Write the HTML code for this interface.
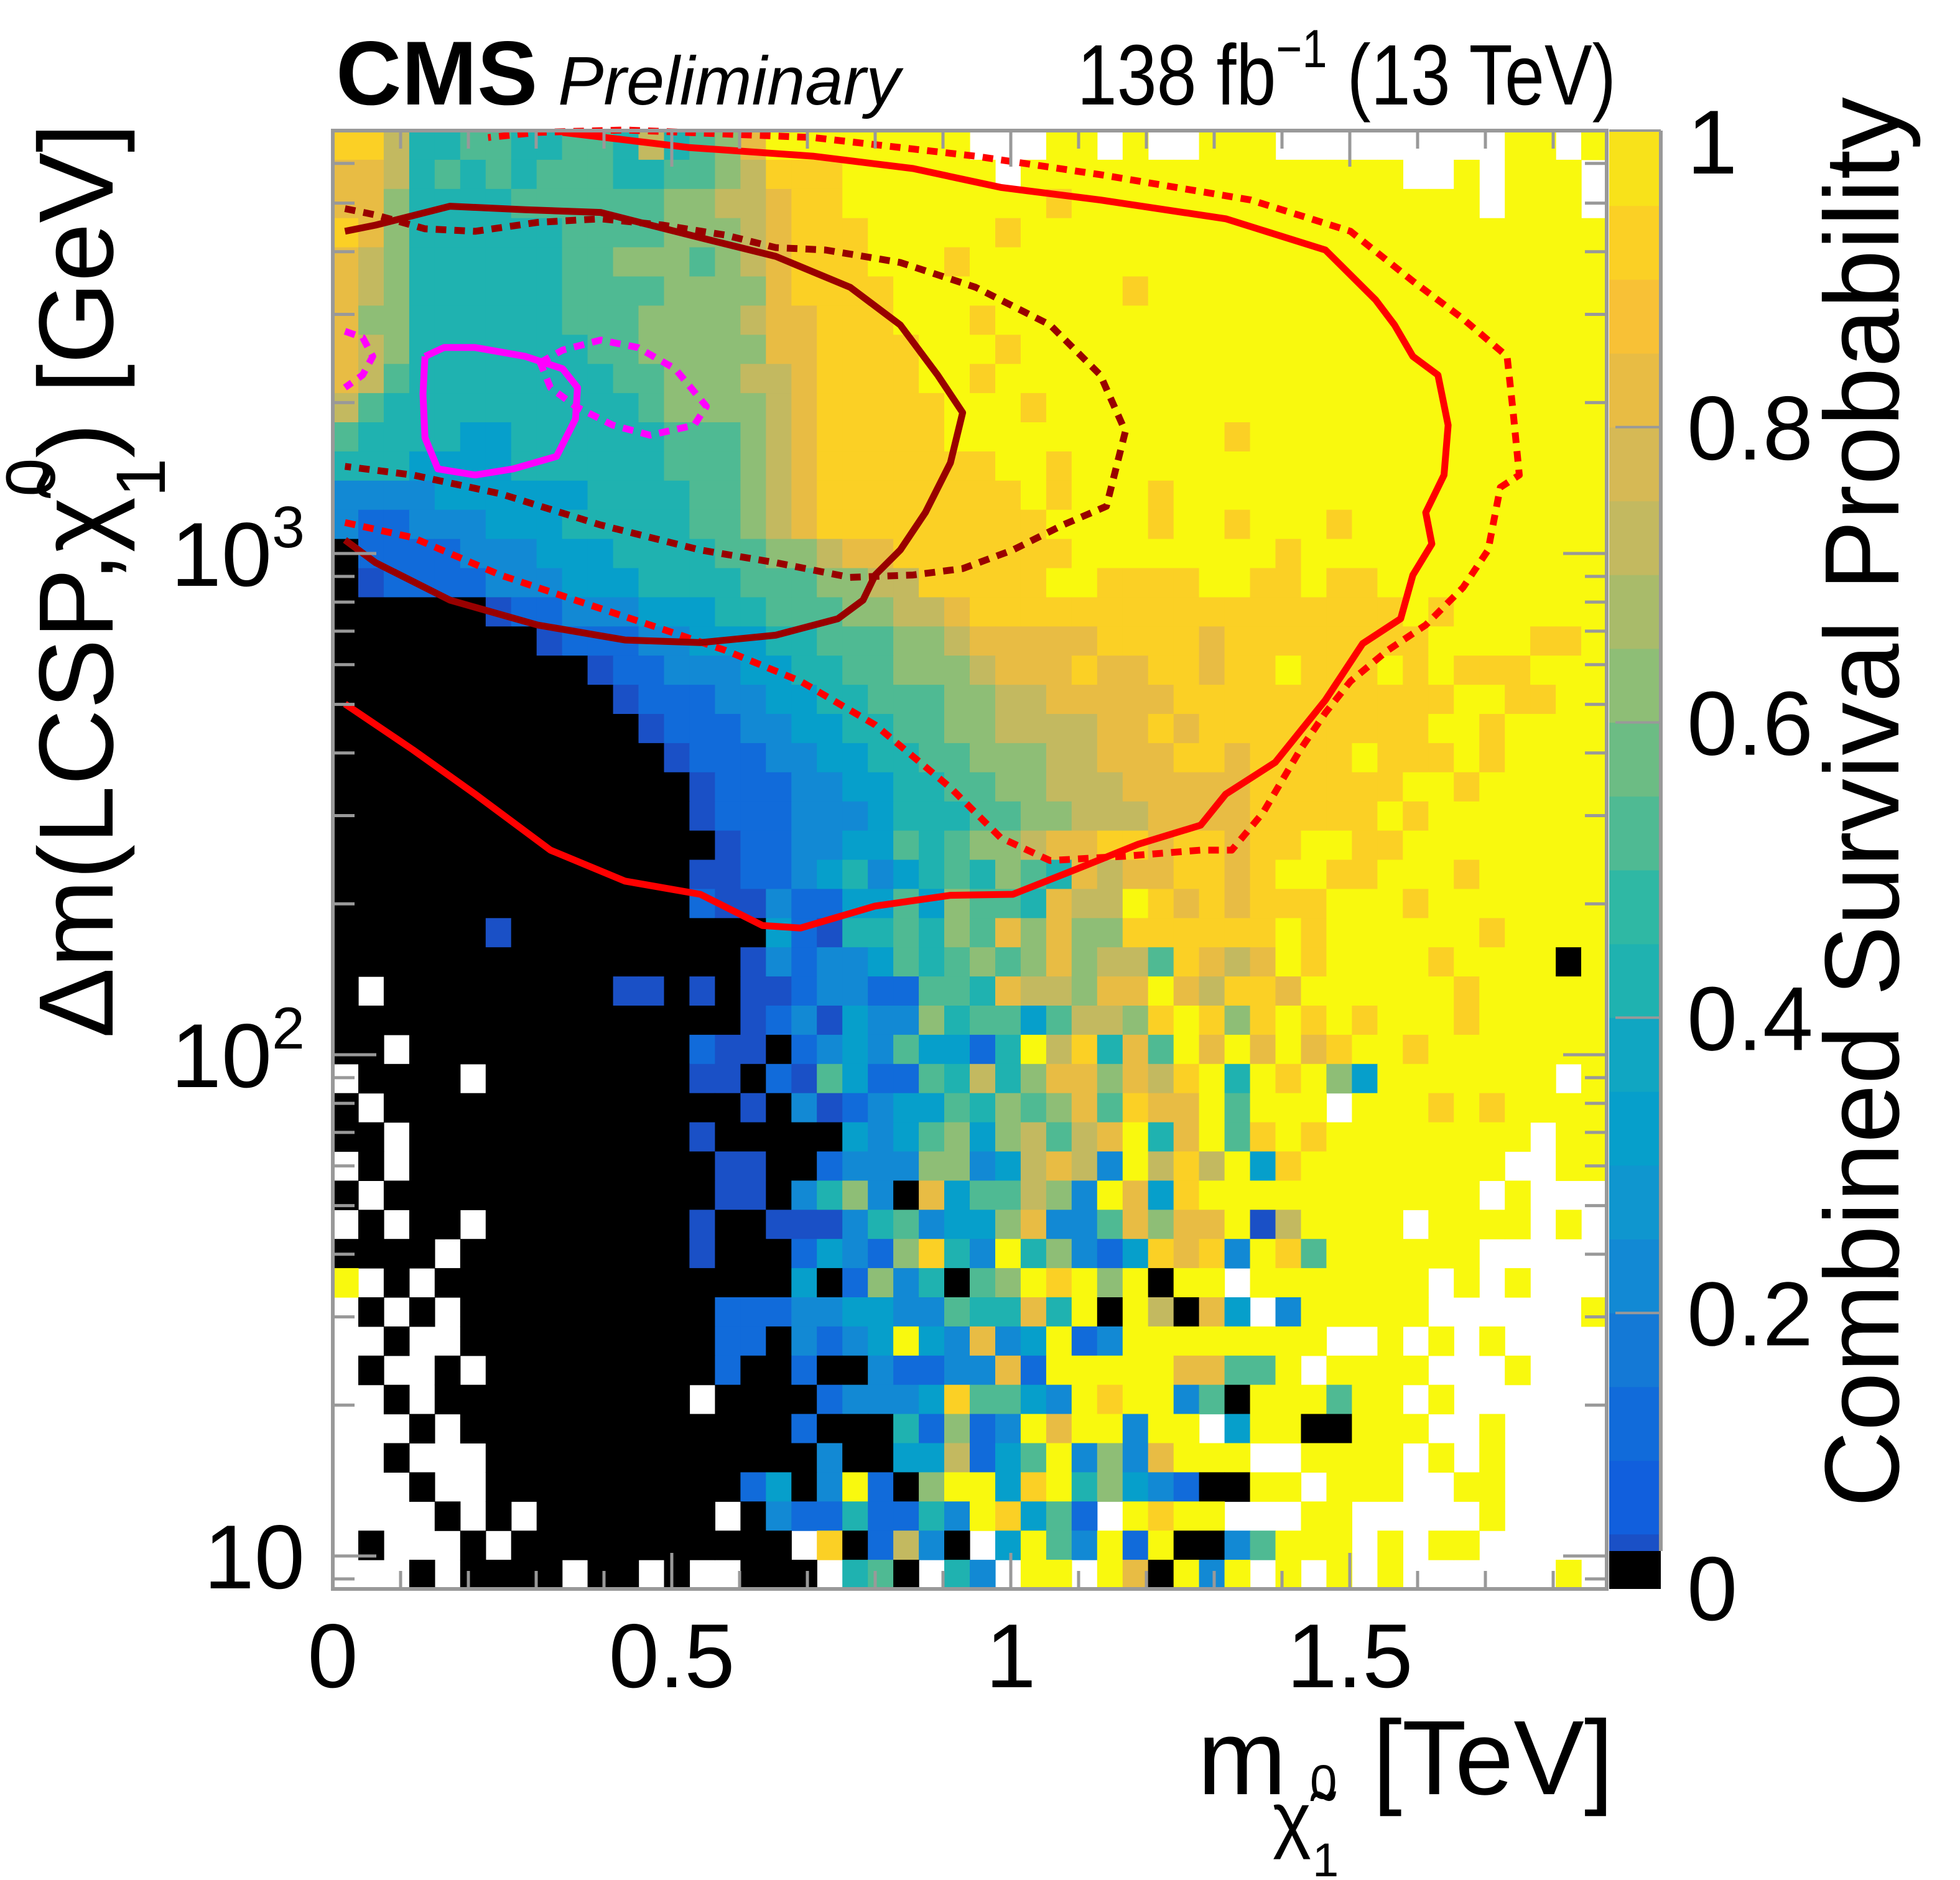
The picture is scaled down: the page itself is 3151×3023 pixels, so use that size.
<!DOCTYPE html>
<html><head><meta charset="utf-8"><style>
html,body{margin:0;padding:0;background:#fff;}
svg{display:block;font-family:"Liberation Sans",sans-serif;}
</style></head><body>
<svg id="chart" xmlns="http://www.w3.org/2000/svg" width="3151" height="3023" viewBox="0 0 3151 3023">
<rect width="3151" height="3023" fill="#fff"/>
<g id="heatmap"></g>
<g id="contours"></g>
<g id="axes"></g>
<g id="colorbar"></g>
<text x="540" y="168" font-size="146" font-weight="bold">CMS</text>
<text x="897" y="168" font-size="110" font-style="italic">Preliminary</text>
<text transform="translate(2598,168) scale(1,1.2)" font-size="115" text-anchor="end">138 fb<tspan dy="-50" font-size="72">−1</tspan><tspan dy="50"> (13 TeV)</tspan></text>
<g>
<text x="1925" y="2885" font-size="172">m</text>
<text x="2046" y="2965" font-size="118">χ̃</text>
<text x="2110" y="3017" font-size="76">1</text>
<text x="2106" y="2892" font-size="78">0</text>
<text x="2594" y="2885" font-size="170" text-anchor="end">[TeV]</text>
</g>
<text transform="translate(181,198) rotate(-90)" font-size="170" text-anchor="end">Δm(LCSP,χ̃<tspan dy="84" font-size="112">1</tspan><tspan dy="-177" dx="-62" font-size="112">0</tspan><tspan dy="93">) [GeV]</tspan></text>
<text transform="translate(3052,1290) rotate(-90)" font-size="170" text-anchor="middle">Combined Survival Probability</text>
</svg>
<script>
const gridRows = [
"9974455445"+"5474568aaa"+"aaaaa...aa"+".a..aaa..."+"......aa.a",
"8874545455"+"5445567999"+"aaaaaa.aaa"+"aaaaaaaaaa"+"aa..a.aaa.",
"8864444555"+"5556677899"+"aaaaaaaa9a"+"aaaaaaaaaa"+"aaaaa.aaa.",
"9864444445"+"5556667899"+"9aaaaa9aaa"+"aaaaaaaaaa"+"aaaaaaaaaa",
"8764444445"+"5666567899"+"9aaa9aaaaa"+"aaaaaaaaaa"+"aaaaaaaaaa",
"8764444445"+"5556666899"+"99aaaaaaaa"+"a9aaaaaaaa"+"aaaaaaaaaa",
"8664444445"+"5566667889"+"99aaa9aaaa"+"aaaaaaaaaa"+"aaaaaaaaaa",
"8764444444"+"5566666889"+"999aaa9aaa"+"aaaaaaaaaa"+"aaaaaaaaaa",
"8754444444"+"4556667789"+"999aa9aaaa"+"aaaaaaaaaa"+"aaaaaaaaaa",
"7544444444"+"4456666789"+"9999aaa9aa"+"aaaaaaaaaa"+"aaaaaaaaaa",
"5444433444"+"4445556789"+"9999aaaaaa"+"aaaaa9aaaa"+"aaaaaaaaaa",
"4443333444"+"4445556789"+"999999aa9a"+"aaaaaaaaaa"+"aaaaaaaaaa",
"2222333333"+"4444556789"+"9999999a9a"+"aa9aaaaaaa"+"aaaaaaaaaa",
"2112223334"+"4444556789"+"99999999aa"+"aa9aa9aaa9"+"aaaaaaaaaa",
"0111122233"+"3444455667"+"889999999a"+"aaaaaaa9aa"+"aaaaaaaaaa",
"0b11112223"+"3344445556"+"67799999aa"+"9999aa99a9"+"9aaaaaaaaa",
"000000b112"+"2233344555"+"6677899999"+"9999999999"+"99a9aaaaaa",
"00000000b1"+"1122333445"+"5566788888"+"9999899999"+"999aaaa99a",
"0000000000"+"b112223344"+"5566678889"+"8899899a99"+"9a9a999aaa",
"0000000000"+"0b11122334"+"4555667788"+"8889999999"+"9999aa99aa",
"0000000000"+"00b1112233"+"4455667777"+"8898999999"+"999aa9aaaa",
"0000000000"+"000b111223"+"3445566677"+"8889989999"+"a999a9aaaa",
"0000000000"+"0000b11122"+"3344556677"+"7888889999"+"99aa9aaaaa",
"0000000000"+"0000b11122"+"2344455667"+"7788889999"+"9a9aaaaaaa",
"0000000000"+"0000"+"0b11223354"+"5667889989"+"9899aa9"+"9aaaaaaaa",
"0000000000"+"0000"+"bb11234234"+"5465487889"+"989aa99"+"aaa9aaaaa",
"0000000000"+"0000"+"1bb2113353"+"6554877a98"+"98999aa"+"a9aaaaaaa",
"000000b000"+"0000"+"00031b4454"+"6586866999"+"999a9aa"+"aaaa9aaaa",
"0000000000"+"0000"+"00b2122354"+"5656867759"+"878a9aa"+"aa9aaaa0a",
"0.00000000"+"0bb0"+"b0bb122115"+"54877688a8"+"7998aaa"+"aaa9aaaaa",
"0000000000"+"0000"+"00b12b3226"+"455357769a"+"969a9a9"+"aaa9aaaaa",
"00.0000000"+"0000"+"1bb0123253"+"314a79485a"+"8a8a89a"+"a9aaaaaaa",
".0000.0000"+"0000"+"bb01b53115"+"4746886879"+"a4a9a63"+"aaaaaaa.a",
"0.00000000"+"0000"+"00b02b1233"+"5465685988"+"a5aaa.a"+"aa9a9aaaa",
"00.0000000"+"0000"+"b000003235"+"6367578a48"+"a59a9aa"+"aaaaaa.aa",
".0.0000000"+"0000"+"0bb0012226"+"6237872a79"+"7a39aaa"+"aaaaa..aa",
"0.00000000"+"0000"+"0bb0246208"+"355762a839"+"aaaaaaa"+"aaaa.a...",
".0.00.0000"+"0000"+"b00bbb2452"+"3368225868"+"8ab7aaa"+"a.aaaa.a.",
"0000.00000"+"0000"+"b000132169"+"42a4621398"+"92a95aa"+"aaaa.....",
"a.0.000000"+"0000"+"0000301624"+"056a9a6a0a"+"a.aaaaa"+"aa.a.a...",
".0.0.00000"+"0000"+"0111223322"+"54484a0a70"+"83.2aaa"+"aa......a",
"..0..00000"+"0000"+"01102123a3"+"2823a12aaa"+"aaaaa.."+"a.a.a....",
".0..0.0000"+"0000"+"0100100211"+"2281aaaaa8"+"855a.aa"+"aa...a...",
"..0.000000"+"0000"+".000012223"+"95532a9aa2"+"50aaa5a"+"a.a......",
"...0.00000"+"0000"+"0000100041"+"612a8aa2aa"+".3aa00a"+"aa..a....",
"..0...0000"+"0000"+"0000020033"+"7135a2628a"+"aa..aaa"+"a.a.a....",
"...0..0000"+"0000"+"001302a106"+"aa39a46321"+"00aa.aa"+"a..aa....",
"....0.0.00"+"0000"+"0.02114114"+"2a9351.a9a"+"a...aa."+"....a....",
".0...0.000"+"0000"+"0000.90172"+"0.3a52a1a0"+"025aaa."+"a.aa.....",
"...0.0000."+"00.0"+"..000.450."+"42.aa.a80a"+"2a.a.a."+"a......a."
];
const levelValues = {"0":0,"b":0.03,"1":0.1,"2":0.2,"3":0.3,"4":0.4,"5":0.5,"6":0.6,"7":0.7,"8":0.8,"9":0.9,"a":1.0};
const xTicksMajor = [0, 0.5, 1, 1.5];
const xTickLabels = ["0", "0.5", "1", "1.5"];
const yDecades = [10, 100, 1000];
const zTicks = [0, 0.2, 0.4, 0.6, 0.8, 1];
const zTickLabels = ["0", "0.2", "0.4", "0.6", "0.8", "1"];
const redSolid = [[0.018,501],[0.118,406],[0.210,331],[0.321,256],[0.431,222],[0.542,209],[0.634,181],[0.690,179],[0.800,198],[0.911,208],[1.003,209],[1.095,234],[1.188,263],[1.280,287],[1.317,331],[1.390,383],[1.464,510],[1.519,661],[1.575,741],[1.593,906],[1.621,1045],[1.612,1207],[1.639,1434],[1.645,1803],[1.630,2270],[1.593,2473],[1.566,2857],[1.538,3207],[1.464,4031],[1.317,4653],[1.132,5072],[0.985,5375],[0.856,5861],[0.708,6205],[0.524,6457],[0.339,6920]];
const redDotted = [[0.018,1153],[0.118,1076],[0.247,906],[0.358,807],[0.468,720],[0.579,641],[0.690,556],[0.800,455],[0.911,341],[0.985,271],[1.058,244],[1.169,249],[1.280,256],[1.326,256],[1.372,304],[1.427,406],[1.464,481],[1.501,556],[1.556,641],[1.612,720],[1.667,855],[1.704,1016],[1.722,1355],[1.750,1434],[1.741,1910],[1.732,2473],[1.667,2939],[1.593,3494],[1.501,4393],[1.354,5072],[1.132,5700],[0.948,6205],[0.708,6760],[0.431,6998],[0.302,6920],[0.229,6760]];
const darkRedSolid = [[0.018,4393],[0.063,4520],[0.173,4929],[0.284,4850],[0.395,4790],[0.542,4266],[0.653,3917],[0.763,3397],[0.837,2857],[0.892,2270],[0.929,1910],[0.911,1517],[0.874,1207],[0.837,1016],[0.800,906],[0.782,807],[0.745,741],[0.653,687],[0.542,664],[0.431,672],[0.302,720],[0.173,807],[0.063,959],[0.018,1064]];
const darkRedDotted = [[0.018,4875],[0.063,4736],[0.136,4444],[0.210,4393],[0.302,4576],[0.395,4653],[0.487,4520],[0.579,4318],[0.653,4077],[0.727,4031],[0.837,3806],[0.948,3397],[1.058,2857],[1.132,2270],[1.169,1752],[1.141,1242],[1.077,1140],[1.003,1016],[0.929,933],[0.856,906],[0.763,896],[0.653,959],[0.542,1016],[0.395,1140],[0.247,1316],[0.118,1434],[0.018,1492]];
const magentaSolid = [[0.136,2473],[0.164,2576],[0.210,2576],[0.284,2473],[0.339,2336],[0.361,2143],[0.358,1855],[0.330,1562],[0.266,1475],[0.210,1434],[0.155,1475],[0.136,1703],[0.133,2080],[0.136,2473]];
const magentaDottedA = [[0.018,2775],[0.044,2697],[0.059,2473],[0.044,2270],[0.018,2143]];
const magentaDottedB = [[0.306,2404],[0.339,2546],[0.395,2666],[0.450,2576],[0.505,2336],[0.551,1966],[0.533,1803],[0.468,1722],[0.413,1803],[0.358,1966],[0.321,2143],[0.306,2404]];
const binColors = ["#1a50c6","#115fdd","#116bda","#1479d6","#1289d4","#0f96cf","#069fcb","#10a6c2","#1fb2b0","#2fb8a4","#4fba93","#6cbc84","#8ebe76","#a9bb6a","#c3b960","#d6b955","#e8bc44","#f8c136","#fbd025","#f8e21a"];

const NS = "http://www.w3.org/2000/svg";
const PX0 = 535, PX1 = 2583, PY0 = 210, PY1 = 2555;
const XMIN = 0, XMAX = (PX1 - PX0) / 1090;
const LMIN = 3 - (PY1 - 890) / 806, LMAX = 3 + (890 - PY0) / 806;
function X(v) { return PX0 + (v - XMIN) / (XMAX - XMIN) * (PX1 - PX0); }
function Y(v) { return PY1 - (Math.log10(v) - LMIN) / (LMAX - LMIN) * (PY1 - PY0); }
function Z(v) { return 2586 - v * 2374; }
function colorOf(v) {
  if (v <= 0) return "#000";
  if (v >= 1) return "#f9f90e";
  return binColors[Math.min(19, Math.floor(v / 0.05 + 1e-9))];
}
function mk(tag, attrs, parent) {
  const e = document.createElementNS(NS, tag);
  for (const k in attrs) e.setAttribute(k, attrs[k]);
  parent.appendChild(e);
  return e;
}
const hm = document.getElementById("heatmap");
const nRows = gridRows.length;
const nCols = 50;
for (let r = 0; r < nRows; r++) {
  const row = gridRows[r];
  const l1 = LMAX - r * (LMAX - LMIN) / nRows, l0 = LMAX - (r + 1) * (LMAX - LMIN) / nRows;
  for (let c = 0; c < nCols; c++) {
    const ch = row[c];
    if (ch === undefined || ch === ".") continue;
    const v = levelValues[ch];
    const x0 = XMIN + c * (XMAX - XMIN) / nCols, x1 = XMIN + (c + 1) * (XMAX - XMIN) / nCols;
    const ya = Y(Math.pow(10, l1)), yb = Y(Math.pow(10, l0));
    const el = mk("rect", {x: X(x0).toFixed(1), y: ya.toFixed(1), width: (X(x1) - X(x0) + 0.6).toFixed(1), height: (yb - ya + 0.6).toFixed(1), fill: colorOf(v)}, hm);
    
    
  }
}
const cg = document.getElementById("contours");
function contour(pts, color, dashed, name) {
  const p = pts.map(q => X(q[0]).toFixed(1) + "," + Y(q[1]).toFixed(1)).join(" ");
  const a = {points: p, fill: "none", stroke: color, "stroke-width": 11, "stroke-linejoin": "round"};
  if (dashed) a["stroke-dasharray"] = "17 13";
  const el = mk("polyline", a, cg);
  
  
}
contour(redDotted, "#ff0000", true, "red-dotted-contour");
contour(redSolid, "#ff0000", false, "red-solid-contour");
contour(darkRedDotted, "#990000", true, "darkred-dotted-contour");
contour(darkRedSolid, "#990000", false, "darkred-solid-contour");
contour(magentaDottedA, "#ff00ff", true, "magenta-dotted-contour-left");
contour(magentaDottedB, "#ff00ff", true, "magenta-dotted-contour");
contour(magentaSolid, "#ff00ff", false, "magenta-solid-contour");
const ax = document.getElementById("axes");
const G = "#999";
let fr = mk("rect", {x: PX0, y: PY0, width: PX1 - PX0, height: PY1 - PY0, fill: "none", stroke: G, "stroke-width": 6}, ax);


for (let t = 0; t <= 1.85; t += 0.1) {
  const tt = Math.round(t * 10) / 10;
  const major = Math.abs(tt * 2 - Math.round(tt * 2)) < 1e-6;
  const len = major ? 58 : 29;
  const x = X(tt);
  mk("line", {x1: x, y1: PY1, x2: x, y2: PY1 - len, stroke: G, "stroke-width": 5}, ax);
  mk("line", {x1: x, y1: PY0, x2: x, y2: PY0 + len, stroke: G, "stroke-width": 5}, ax);
}
xTicksMajor.forEach((t, i) => {
  const el = mk("text", {x: X(t), y: 2713, "font-size": 146, "text-anchor": "middle"}, ax);
  el.textContent = xTickLabels[i];
  
  
});
for (let d = 1; d <= 1000; d *= 10) {
  for (let m = 1; m <= 9; m++) {
    const v = d * m;
    if (v < 8.7 || v > 6900) continue;
    const len = m === 1 ? 70 : 35;
    const y = Y(v);
    mk("line", {x1: PX0, y1: y, x2: PX0 + len, y2: y, stroke: G, "stroke-width": 5}, ax);
    mk("line", {x1: PX1, y1: y, x2: PX1 - len, y2: y, stroke: G, "stroke-width": 5}, ax);
  }
}
yDecades.forEach(v => {
  const e = Math.round(Math.log10(v));
  const el = mk("text", {x: 490, y: Y(v) + 52, "font-size": 146, "text-anchor": "end"}, ax);
  
  
  el.textContent = "10";
  if (e !== 1) {
    const s = mk("tspan", {dy: -62, "font-size": 95}, el);
    s.textContent = String(e);
  }
});
const cb = document.getElementById("colorbar");
const CX0 = 2587, CX1 = 2670;
for (let k = 1; k < 20; k++) {
  const el = mk("rect", {x: CX0, y: Z(0.05 * (k + 1)).toFixed(1), width: CX1 - CX0, height: (Z(0.05 * k) - Z(0.05 * (k + 1)) + 0.5).toFixed(1), fill: binColors[k]}, cb);
  
  
}
let e0 = mk("rect", {x: CX0, y: Z(0.05), width: CX1 - CX0, height: 2494 - Z(0.05), fill: binColors[0]}, cb);


let eb = mk("rect", {x: CX0, y: 2494, width: CX1 - CX0, height: PY1 - 2494, fill: "#000"}, cb);


mk("line", {x1: CX1, y1: PY0, x2: CX1, y2: 2494, stroke: G, "stroke-width": 6}, cb);
mk("line", {x1: CX0, y1: PY0, x2: CX1, y2: PY0, stroke: G, "stroke-width": 4}, cb);
zTicks.forEach((t, i) => {
  if (t > 0 && t < 1) mk("line", {x1: 2597, y1: Z(t), x2: CX1, y2: Z(t), stroke: G, "stroke-width": 4}, cb);
  let y = Z(t);
  if (t === 0) y = 2553;
  if (t === 1) y = 227;
  const el = mk("text", {x: 2712, y: y + 52, "font-size": 146}, cb);
  el.textContent = zTickLabels[i];
  
  
});
</script>
</body></html>
